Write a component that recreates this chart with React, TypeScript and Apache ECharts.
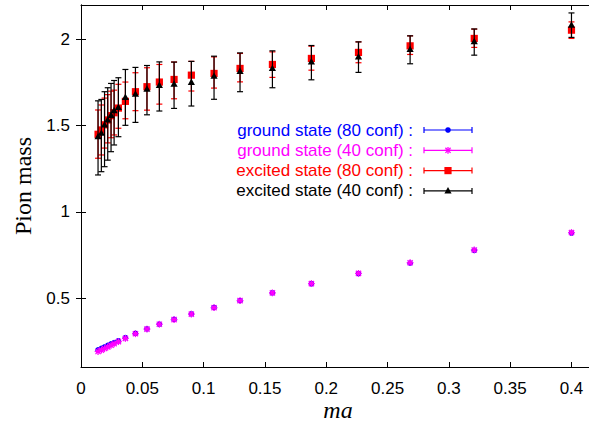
import React, { useEffect, useRef } from "react";
import * as echarts from "echarts";

const xs = [0.0139, 0.0166, 0.0192, 0.0218, 0.0245, 0.027, 0.0305, 0.0362, 0.0444, 0.0538, 0.0639, 0.0759, 0.09, 0.1085, 0.1297, 0.1561, 0.1879, 0.2263, 0.2684, 0.3207, 0.4];

const ground80Y = [0.199, 0.208, 0.216, 0.225, 0.234, 0.241, 0.252, 0.27, 0.295, 0.321, 0.349, 0.376, 0.408, 0.445, 0.485, 0.53, 0.583, 0.642, 0.703, 0.777, 0.877];
const ground80Err = [0.004, 0.004, 0.004, 0.004, 0.004, 0.004, 0.004, 0.004, 0.004, 0.004, 0.004, 0.004, 0.004, 0.004, 0.004, 0.004, 0.004, 0.004, 0.005, 0.005, 0.006];

const ground40Y = [0.19, 0.198, 0.207, 0.216, 0.226, 0.235, 0.247, 0.266, 0.293, 0.32, 0.348, 0.375, 0.407, 0.444, 0.485, 0.53, 0.584, 0.643, 0.705, 0.779, 0.88];
const ground40Err = [0.005, 0.005, 0.005, 0.005, 0.005, 0.005, 0.005, 0.005, 0.005, 0.005, 0.005, 0.005, 0.005, 0.005, 0.005, 0.005, 0.005, 0.006, 0.006, 0.007, 0.008];

const excited80Y = [1.45, 1.475, 1.505, 1.533, 1.558, 1.575, 1.602, 1.641, 1.697, 1.726, 1.753, 1.768, 1.793, 1.803, 1.832, 1.855, 1.89, 1.925, 1.963, 2.006, 2.054];
const excited80Lo = [1.311, 1.33, 1.37, 1.4, 1.43, 1.446, 1.485, 1.54, 1.587, 1.59, 1.625, 1.656, 1.701, 1.718, 1.754, 1.78, 1.822, 1.865, 1.913, 1.954, 2.006];
const excited80Hi = [1.591, 1.62, 1.66, 1.68, 1.7, 1.706, 1.74, 1.753, 1.807, 1.836, 1.855, 1.869, 1.873, 1.899, 1.919, 1.928, 1.961, 1.986, 2.021, 2.06, 2.102];

const excited40Y = [1.436, 1.456, 1.504, 1.533, 1.56, 1.587, 1.606, 1.664, 1.683, 1.712, 1.734, 1.741, 1.751, 1.787, 1.815, 1.832, 1.87, 1.899, 1.942, 1.988, 2.083];
const excited40Lo = [1.214, 1.233, 1.262, 1.3, 1.349, 1.388, 1.436, 1.502, 1.519, 1.563, 1.585, 1.6, 1.614, 1.653, 1.697, 1.72, 1.766, 1.809, 1.859, 1.909, 2.012];
const excited40Hi = [1.644, 1.652, 1.697, 1.72, 1.745, 1.762, 1.778, 1.826, 1.838, 1.849, 1.87, 1.869, 1.873, 1.903, 1.922, 1.934, 1.965, 1.986, 2.021, 2.061, 2.154];

const xTicks = [0, 0.05, 0.1, 0.15, 0.2, 0.25, 0.3, 0.35, 0.4];
const yTicks = [0.5, 1, 1.5, 2];

const xTitle = "ma";
const yTitle = "Pion mass";

const legendLabels = [
  "ground state (80 conf) :",
  "ground state (40 conf) :",
  "excited state (80 conf) :",
  "excited state (40 conf) :",
];
const colors = ["#0000ff", "#ff00ff", "#ff0000", "#000000"];
const kinds = ["circle", "star", "square", "triangle"];

function markerShape(kind: string, cx: number, cy: number, color: string): any[] {
  if (kind === "circle") {
    return [{ type: "circle", shape: { cx, cy, r: 2.8 }, style: { fill: color } }];
  }
  if (kind === "square") {
    return [{ type: "rect", shape: { x: cx - 3.6, y: cy - 3.6, width: 7.2, height: 7.2 }, style: { fill: color } }];
  }
  if (kind === "triangle") {
    return [{ type: "polygon", shape: { points: [[cx, cy - 3.8], [cx - 3.6, cy + 2.6], [cx + 3.6, cy + 2.6]] }, style: { fill: color } }];
  }
  const r = 3.4;
  const d = 2.6;
  const segs = [
    [cx - r, cy, cx + r, cy],
    [cx, cy - r, cx, cy + r],
    [cx - d, cy - d, cx + d, cy + d],
    [cx - d, cy + d, cx + d, cy - d],
  ];
  return segs.map((s) => ({
    type: "line",
    shape: { x1: s[0], y1: s[1], x2: s[2], y2: s[3] },
    style: { stroke: color, lineWidth: 1.3 },
  }));
}

function makeRender(kind: string, color: string, cap: number) {
  return (_params: any, api: any) => {
    const x = api.value(0);
    const y = api.value(1);
    const lo = api.value(2);
    const hi = api.value(3);
    const p = api.coord([x, y]);
    const pl = api.coord([x, lo]);
    const ph = api.coord([x, hi]);
    const ls = { stroke: color, lineWidth: 1.2 };
    const children: any[] = [
      { type: "line", shape: { x1: p[0], y1: pl[1], x2: p[0], y2: ph[1] }, style: ls },
      { type: "line", shape: { x1: p[0] - cap, y1: pl[1], x2: p[0] + cap, y2: pl[1] }, style: ls },
      { type: "line", shape: { x1: p[0] - cap, y1: ph[1], x2: p[0] + cap, y2: ph[1] }, style: ls },
      ...markerShape(kind, p[0], p[1], color),
    ];
    return { type: "group", children };
  };
}

function buildData(y: number[], lo: number[], hi: number[]) {
  return xs.map((x, i) => [x, y[i], lo[i], hi[i]]);
}

export default function App() {
  const ref = useRef<HTMLDivElement>(null);
  useEffect(() => {
    if (!ref.current) return;
    const chart = echarts.init(ref.current, null, { renderer: "svg" });
    const tickFont = { fontFamily: '"Liberation Sans", Arial, sans-serif', fontSize: 17, color: "#000" };
    const axisLine = { show: true, lineStyle: { color: "#000", width: 1 } };

    const seriesData = [
      buildData(ground80Y, ground80Y.map((v, i) => v - ground80Err[i]), ground80Y.map((v, i) => v + ground80Err[i])),
      buildData(ground40Y, ground40Y.map((v, i) => v - ground40Err[i]), ground40Y.map((v, i) => v + ground40Err[i])),
      buildData(excited80Y, excited80Lo, excited80Hi),
      buildData(excited40Y, excited40Lo, excited40Hi),
    ];

    const legendY0 = 130;
    const legendDy = 20.3;
    const graphics: any[] = [];
    legendLabels.forEach((label, i) => {
      const yy = legendY0 + i * legendDy;
      graphics.push({
        type: "text",
        x: 413,
        y: yy,
        style: {
          text: label,
          fill: colors[i],
          font: '17px "Liberation Sans", Arial, sans-serif',
          align: "right",
          verticalAlign: "middle",
        },
      });
      const ls = { stroke: colors[i], lineWidth: 1.2 };
      graphics.push({ type: "line", shape: { x1: 424, y1: yy, x2: 472, y2: yy }, style: ls });
      graphics.push({ type: "line", shape: { x1: 424, y1: yy - 3, x2: 424, y2: yy + 3 }, style: ls });
      graphics.push({ type: "line", shape: { x1: 472, y1: yy - 3, x2: 472, y2: yy + 3 }, style: ls });
      markerShape(kinds[i], 448, yy, colors[i]).forEach((m) => graphics.push(m));
    });
    graphics.push({
      type: "text",
      x: 338,
      y: 410,
      style: {
        text: xTitle,
        fill: "#000",
        font: 'italic 24px "Liberation Serif", "Times New Roman", serif',
        align: "center",
        verticalAlign: "middle",
      },
    });
    graphics.push({
      type: "text",
      x: 23,
      y: 186,
      rotation: Math.PI / 2,
      style: {
        text: yTitle,
        fill: "#000",
        font: '24px "Liberation Serif", "Times New Roman", serif',
        align: "center",
        verticalAlign: "middle",
      },
    });

    chart.setOption({
      animation: false,
      backgroundColor: "#fff",
      grid: { left: 81, top: 5, right: -7, bottom: 56, containLabel: false, outerBoundsMode: "none" },
      xAxis: [
        {
          type: "value",
          min: 0,
          max: 0.42,
          axisLine,
          axisTick: { show: true, inside: true, length: 5, customValues: xTicks, lineStyle: { color: "#000" } },
          axisLabel: { ...tickFont, margin: 13, customValues: xTicks, formatter: (v: number) => String(v) },
          splitLine: { show: false },
        },
        {
          type: "value",
          position: "top",
          min: 0,
          max: 0.42,
          axisLine,
          axisTick: { show: true, inside: true, length: 5, customValues: xTicks, lineStyle: { color: "#000" } },
          axisLabel: { show: false },
          splitLine: { show: false },
        },
      ],
      yAxis: [
        {
          type: "value",
          min: 0.1,
          max: 2.2,
          axisLine,
          axisTick: { show: true, inside: true, length: 5, customValues: yTicks, lineStyle: { color: "#000" } },
          axisLabel: { ...tickFont, margin: 11, customValues: yTicks, formatter: (v: number) => String(v) },
          splitLine: { show: false },
        },
        {
          type: "value",
          position: "right",
          min: 0.1,
          max: 2.2,
          axisLine,
          axisTick: { show: true, inside: true, length: 5, customValues: yTicks },
          axisLabel: { show: false },
          splitLine: { show: false },
        },
      ],
      series: seriesData.map((data, i) => ({
        type: "custom",
        name: legendLabels[i],
        xAxisIndex: 0,
        yAxisIndex: 0,
        encode: { x: 0, y: 1 },
        renderItem: makeRender(kinds[i], colors[i], i >= 2 ? 3 : 2),
        data,
        z: 2 + i,
      })),
      graphic: graphics,
    });
    return () => chart.dispose();
  }, []);
  return <div ref={ref} style={{ position: "fixed", left: 0, top: 0, width: 589, height: 423 }} />;
}
